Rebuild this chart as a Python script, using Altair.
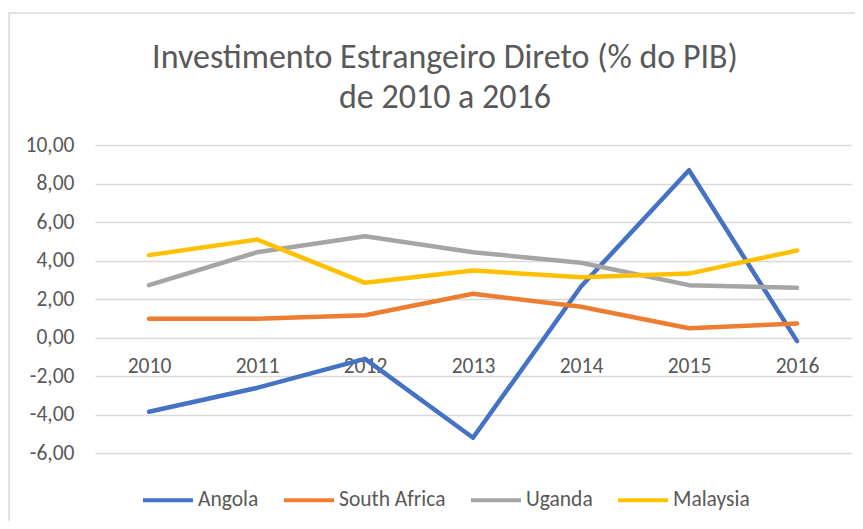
import altair as alt
import pandas as pd

years = ["2010", "2011", "2012", "2013", "2014", "2015", "2016"]
countries = ["Angola", "South Africa", "Uganda", "Malaysia"]
angola = [-3.86, -2.62, -1.11, -5.21, 2.65, 8.69, -0.19]
south_africa = [0.97, 0.97, 1.16, 2.27, 1.60, 0.48, 0.73]
uganda = [2.72, 4.43, 5.26, 4.43, 3.88, 2.72, 2.58]
malaysia = [4.28, 5.09, 2.84, 3.48, 3.13, 3.32, 4.52]
colors = ["#4472C4", "#ED7D31", "#A5A5A5", "#FFC000"]
y_ticks = [-6, -4, -2, 0, 2, 4, 6, 8, 10]
title_lines = ["Investimento Estrangeiro Direto (% do PIB)", "de 2010 a 2016"]

series = [angola, south_africa, uganda, malaysia]
rows = []
for c, vals in zip(countries, series):
    for yr, v in zip(years, vals):
        rows.append({"Ano": yr, "País": c, "Valor": v, "ordem": countries.index(c)})
df = pd.DataFrame(rows)

FONT = "Carlito, Lato, sans-serif"
GREY = "#595959"
LBL = 21.5

lines = alt.Chart(df).mark_line(strokeWidth=4.5, strokeCap="round", strokeJoin="round").encode(
    x=alt.X("Ano:O", sort=years,
            scale=alt.Scale(type="point", padding=0.5),
            axis=alt.Axis(title=None, orient="bottom", offset=-115, domain=False, ticks=False,
                          grid=False, labelAngle=0, labelPadding=17, labelFontSize=LBL,
                          labelColor=GREY, labelFont=FONT)),
    y=alt.Y("Valor:Q",
            scale=alt.Scale(domain=[y_ticks[0], y_ticks[-1]], nice=False, zero=False),
            axis=alt.Axis(title=None, values=y_ticks, domain=False, ticks=False,
                          gridColor="#d9d9d9", gridWidth=1.5, labelPadding=21,
                          labelFontSize=LBL, labelColor=GREY, labelFont=FONT,
                          labelExpr="replace(replace(format(datum.value, '.2f'), '.', ','), '\u2212', '-')")),
    color=alt.Color("País:N", sort=countries,
                    scale=alt.Scale(domain=countries, range=colors),
                    legend=alt.Legend(title=None, orient="none", direction="horizontal",
                                      legendX=46, legendY=328, symbolType="stroke",
                                      symbolSize=2500, symbolStrokeWidth=4,
                                      labelFontSize=LBL, labelColor=GREY, labelFont=FONT,
                                      columnPadding=17, labelOffset=3, symbolOffset=0)),
    order=alt.Order("ordem:Q"),
    detail="País:N",
)

frame = alt.Chart(alt.Data(values=[{}])).mark_rect(
    fill=None, stroke="#d9d9d9", strokeWidth=1.5, clip=False
).encode(
    x=alt.value(-86), x2=alt.value(900), y=alt.value(-132), y2=alt.value(600)
)

chart = alt.layer(frame, lines).properties(
    width=756, height=308,
    padding={"left": 87, "top": 137, "right": 4, "bottom": 68},
    autosize=alt.AutoSizeParams(type="none"),
    title=alt.TitleParams(title_lines, fontSize=34, font=FONT, color=GREY, fontWeight="normal",
                          anchor="middle", frame="group", dx=-28, dy=133, offset=30, lineHeight=40),
).configure_view(stroke=None)

chart.save("out.html", embed_options={"renderer": "svg", "actions": False})
